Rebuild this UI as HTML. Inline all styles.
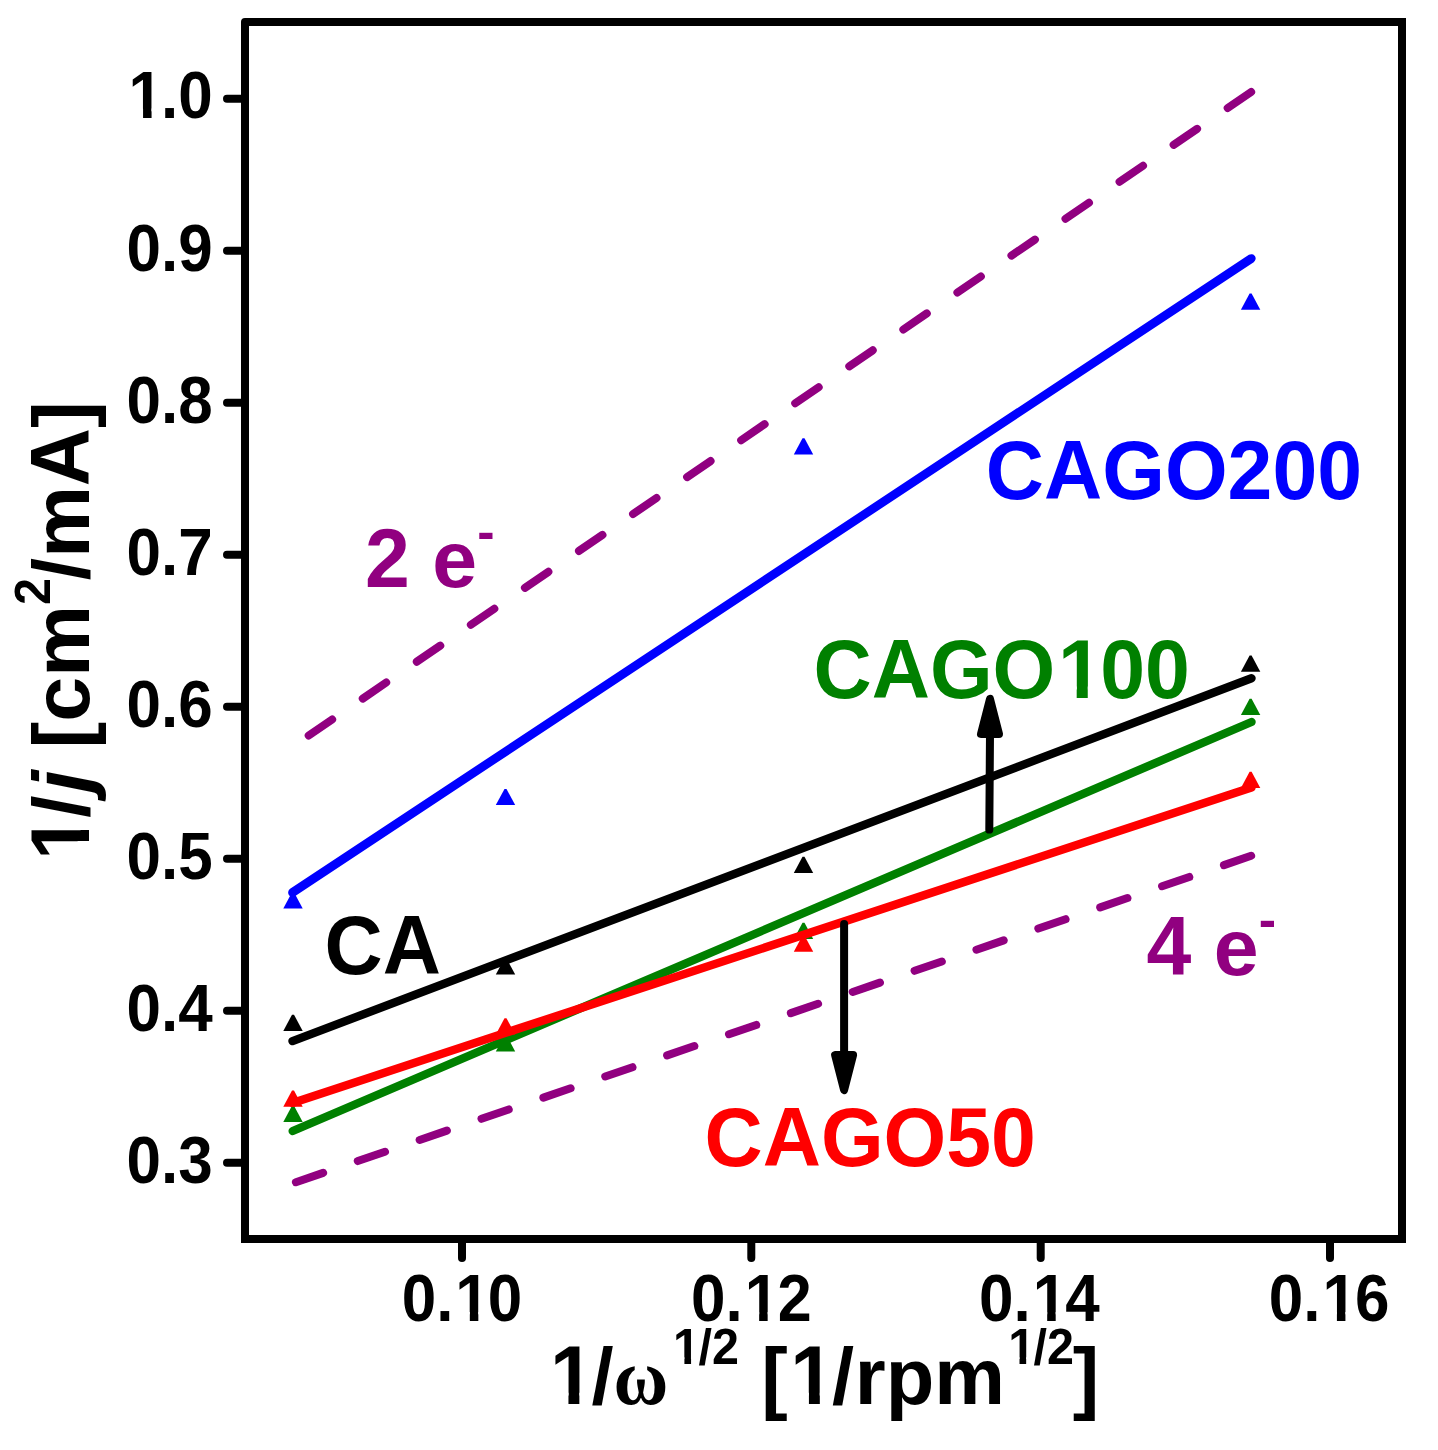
<!DOCTYPE html>
<html lang="en"><head><meta charset="utf-8"><title>Koutecky-Levich plot</title>
<style>html,body{margin:0;padding:0;background:#fff}svg{display:block}text{font-family:"Liberation Sans",Arial,Helvetica,sans-serif;font-weight:bold}.sy{font-family:"Liberation Serif","Times New Roman",serif;font-weight:bold}.it{font-style:italic}</style>
</head><body>
<svg width="1438" height="1450" viewBox="0 0 1438 1450">
<defs><clipPath id="c1"><path clip-rule="evenodd" d="M-50 -74.4H84.5V31.0H-50ZM-0.31 -8.37H16.45V1.86H-0.31ZM24.96 -8.37H37.20V1.86H24.96Z"/></clipPath><clipPath id="c2"><path clip-rule="evenodd" d="M-50 -74.4H119.0V31.0H-50ZM-0.31 -8.37H16.45V1.86H-0.31ZM24.96 -8.37H37.20V1.86H24.96Z"/></clipPath><clipPath id="c3"><path clip-rule="evenodd" d="M-50 -74.4H119.0V31.0H-50ZM-0.31 -8.37H16.45V1.86H-0.31ZM24.96 -8.37H37.20V1.86H24.96Z"/></clipPath><clipPath id="c4"><path clip-rule="evenodd" d="M-50 -74.4H119.0V31.0H-50ZM-0.31 -8.37H16.45V1.86H-0.31ZM24.96 -8.37H37.20V1.86H24.96Z"/></clipPath><clipPath id="c5"><path clip-rule="evenodd" d="M-50 -74.4H119.0V31.0H-50ZM-0.31 -8.37H16.45V1.86H-0.31ZM24.96 -8.37H37.20V1.86H24.96Z"/></clipPath><clipPath id="c6"><path clip-rule="evenodd" d="M-50 -96.7H426.3V40.3H-50ZM241.40 -10.88H263.19V2.42H241.40ZM274.25 -10.88H290.16V2.42H274.25Z"/></clipPath><clipPath id="c7"><path clip-rule="evenodd" d="M-50 -95.4H94.2V39.8H-50ZM-0.40 -10.73H21.10V2.38H-0.40ZM32.01 -10.73H47.70V2.38H32.01Z"/></clipPath><clipPath id="c8"><path clip-rule="evenodd" d="M-50 -58.2H77.0V24.2H-50ZM-0.24 -6.55H12.87V1.45H-0.24ZM19.53 -6.55H29.10V1.45H19.53Z"/></clipPath><clipPath id="c9"><path clip-rule="evenodd" d="M-50 -95.4H94.2V39.8H-50ZM-0.40 -10.73H21.10V2.38H-0.40ZM32.01 -10.73H47.70V2.38H32.01Z"/></clipPath><clipPath id="c10"><path clip-rule="evenodd" d="M-50 -58.2H77.0V24.2H-50ZM-0.24 -6.55H12.87V1.45H-0.24ZM19.53 -6.55H29.10V1.45H19.53Z"/></clipPath><clipPath id="c11"><path clip-rule="evenodd" d="M-50 -96.7H94.8V40.3H-50ZM-0.40 -10.88H21.39V2.42H-0.40ZM32.45 -10.88H48.36V2.42H32.45Z"/></clipPath></defs>
<rect x="0" y="0" width="1438" height="1450" fill="#ffffff"/>
<g fill="none" stroke="#000" stroke-width="8" stroke-linecap="round">
<path d="M245 1239L245 22L1402 22" stroke-linecap="square" stroke-linejoin="round"/>
<path d="M1402 22L1402 1239L245 1239" stroke-linecap="square" stroke-linejoin="miter"/>
<line x1="227" y1="98.8" x2="245" y2="98.8"/>
<line x1="227" y1="250.8" x2="245" y2="250.8"/>
<line x1="227" y1="402.8" x2="245" y2="402.8"/>
<line x1="227" y1="554.8" x2="245" y2="554.8"/>
<line x1="227" y1="706.8" x2="245" y2="706.8"/>
<line x1="227" y1="858.8" x2="245" y2="858.8"/>
<line x1="227" y1="1010.8" x2="245" y2="1010.8"/>
<line x1="227" y1="1162.8" x2="245" y2="1162.8"/>
<line x1="462.0" y1="1239" x2="462.0" y2="1258"/>
<line x1="751.3" y1="1239" x2="751.3" y2="1258"/>
<line x1="1040.7" y1="1239" x2="1040.7" y2="1258"/>
<line x1="1330.0" y1="1239" x2="1330.0" y2="1258"/>
</g>
<g><text transform="translate(212.80,117.50) translate(-86.19,0) scale(1,1.065)" font-size="62.0" clip-path="url(#c1)" dx="1.98">1</text><text transform="translate(212.80,117.50) translate(-51.71,0) scale(1,1.065)" font-size="62.0">.</text><text transform="translate(212.80,117.50) translate(-34.48,0) scale(1,1.065)" font-size="62.0">0</text></g>
<g><text transform="translate(212.80,270.50) translate(-86.19,0) scale(1,1.065)" font-size="62.0">0</text><text transform="translate(212.80,270.50) translate(-51.71,0) scale(1,1.065)" font-size="62.0">.</text><text transform="translate(212.80,270.50) translate(-34.48,0) scale(1,1.065)" font-size="62.0">9</text></g>
<g><text transform="translate(212.80,422.50) translate(-86.19,0) scale(1,1.065)" font-size="62.0">0</text><text transform="translate(212.80,422.50) translate(-51.71,0) scale(1,1.065)" font-size="62.0">.</text><text transform="translate(212.80,422.50) translate(-34.48,0) scale(1,1.065)" font-size="62.0">8</text></g>
<g><text transform="translate(212.80,574.50) translate(-86.19,0) scale(1,1.065)" font-size="62.0">0</text><text transform="translate(212.80,574.50) translate(-51.71,0) scale(1,1.065)" font-size="62.0">.</text><text transform="translate(212.80,574.50) translate(-34.48,0) scale(1,1.065)" font-size="62.0">7</text></g>
<g><text transform="translate(212.80,726.50) translate(-86.19,0) scale(1,1.065)" font-size="62.0">0</text><text transform="translate(212.80,726.50) translate(-51.71,0) scale(1,1.065)" font-size="62.0">.</text><text transform="translate(212.80,726.50) translate(-34.48,0) scale(1,1.065)" font-size="62.0">6</text></g>
<g><text transform="translate(212.80,878.50) translate(-86.19,0) scale(1,1.065)" font-size="62.0">0</text><text transform="translate(212.80,878.50) translate(-51.71,0) scale(1,1.065)" font-size="62.0">.</text><text transform="translate(212.80,878.50) translate(-34.48,0) scale(1,1.065)" font-size="62.0">5</text></g>
<g><text transform="translate(212.80,1030.50) translate(-86.19,0) scale(1,1.065)" font-size="62.0">0</text><text transform="translate(212.80,1030.50) translate(-51.71,0) scale(1,1.065)" font-size="62.0">.</text><text transform="translate(212.80,1030.50) translate(-34.48,0) scale(1,1.065)" font-size="62.0">4</text></g>
<g><text transform="translate(212.80,1182.50) translate(-86.19,0) scale(1,1.065)" font-size="62.0">0</text><text transform="translate(212.80,1182.50) translate(-51.71,0) scale(1,1.065)" font-size="62.0">.</text><text transform="translate(212.80,1182.50) translate(-34.48,0) scale(1,1.065)" font-size="62.0">3</text></g>
<g><text transform="translate(462.00,1320.90) translate(-60.33,0) scale(1,1.065)" font-size="62.0">0</text><text transform="translate(462.00,1320.90) translate(-25.85,0) scale(1,1.065)" font-size="62.0">.</text><text transform="translate(462.00,1320.90) translate(-8.63,0) scale(1,1.065)" font-size="62.0" clip-path="url(#c2)" dx="1.98 -1.98">10</text></g>
<g><text transform="translate(751.33,1320.90) translate(-60.33,0) scale(1,1.065)" font-size="62.0">0</text><text transform="translate(751.33,1320.90) translate(-25.85,0) scale(1,1.065)" font-size="62.0">.</text><text transform="translate(751.33,1320.90) translate(-8.63,0) scale(1,1.065)" font-size="62.0" clip-path="url(#c3)" dx="1.98 -1.98">12</text></g>
<g><text transform="translate(1039.36,1320.90) translate(-60.33,0) scale(1,1.065)" font-size="62.0">0</text><text transform="translate(1039.36,1320.90) translate(-25.85,0) scale(1,1.065)" font-size="62.0">.</text><text transform="translate(1039.36,1320.90) translate(-8.63,0) scale(1,1.065)" font-size="62.0" clip-path="url(#c4)" dx="1.98 -1.98">14</text></g>
<g><text transform="translate(1329.09,1320.90) translate(-60.33,0) scale(1,1.065)" font-size="62.0">0</text><text transform="translate(1329.09,1320.90) translate(-25.85,0) scale(1,1.065)" font-size="62.0">.</text><text transform="translate(1329.09,1320.90) translate(-8.63,0) scale(1,1.065)" font-size="62.0" clip-path="url(#c5)" dx="1.98 -1.98">16</text></g>
<line x1="308.7" y1="735.5" x2="1251.2" y2="91.9" stroke="#910080" stroke-width="8" stroke-linecap="round" stroke-dasharray="28.40 37.06"/>
<line x1="295.9" y1="1182.2" x2="1251.2" y2="855.8" stroke="#910080" stroke-width="8" stroke-linecap="round" stroke-dasharray="28.80 36.58"/>
<path d="M283.3 908.5L302.7 908.5L294.0 892.3L292.0 892.3Z" fill="#0000ff"/>
<path d="M495.8 805.1L515.2 805.1L506.5 788.9L504.5 788.9Z" fill="#0000ff"/>
<path d="M793.8 454.5L813.2 454.5L804.5 438.3L802.5 438.3Z" fill="#0000ff"/>
<path d="M1240.9 309.7L1260.3 309.7L1251.6 293.5L1249.6 293.5Z" fill="#0000ff"/>
<line x1="292.5" y1="892.5" x2="1251.3" y2="258.5" stroke="#0000ff" stroke-width="8.7" stroke-linecap="round"/>
<path d="M283.3 1030.9L302.7 1030.9L294.0 1014.7L292.0 1014.7Z" fill="#000000"/>
<path d="M495.8 974.6L515.2 974.6L506.5 958.4L504.5 958.4Z" fill="#000000"/>
<path d="M793.8 873.0L813.2 873.0L804.5 856.8L802.5 856.8Z" fill="#000000"/>
<path d="M1240.9 671.7L1260.3 671.7L1251.6 655.5L1249.6 655.5Z" fill="#000000"/>
<line x1="292.5" y1="1041.1" x2="1251.5" y2="678.3" stroke="#000000" stroke-width="8.4" stroke-linecap="round"/>
<path d="M283.3 1122.0L302.7 1122.0L294.0 1105.8L292.0 1105.8Z" fill="#008000"/>
<path d="M495.8 1051.4L515.2 1051.4L506.5 1035.2L504.5 1035.2Z" fill="#008000"/>
<path d="M793.8 939.0L813.2 939.0L804.5 922.8L802.5 922.8Z" fill="#008000"/>
<path d="M1240.9 715.0L1260.3 715.0L1251.6 698.8L1249.6 698.8Z" fill="#008000"/>
<line x1="292.7" y1="1131" x2="1251.5" y2="722" stroke="#008000" stroke-width="8.4" stroke-linecap="round"/>
<path d="M283.3 1106.8L302.7 1106.8L294.0 1090.6L292.0 1090.6Z" fill="#ff0000"/>
<path d="M495.8 1034.5L515.2 1034.5L506.5 1018.3L504.5 1018.3Z" fill="#ff0000"/>
<path d="M793.8 951.7L813.2 951.7L804.5 935.5L802.5 935.5Z" fill="#ff0000"/>
<path d="M1240.9 788.0L1260.3 788.0L1251.6 771.8L1249.6 771.8Z" fill="#ff0000"/>
<line x1="292.5" y1="1102.9" x2="1251.5" y2="787.5" stroke="#ff0000" stroke-width="8.4" stroke-linecap="round"/>
<line x1="989.3" y1="829.6" x2="990.0" y2="733.9" stroke="#000" stroke-width="8" stroke-linecap="round"/>
<path d="M981.0 733.9L999.0 733.9L990.0 698.9Z" fill="#000" stroke="#000" stroke-width="8" stroke-linejoin="round"/>
<line x1="844.1" y1="924" x2="844.1" y2="1055.1" stroke="#000" stroke-width="8" stroke-linecap="round"/>
<path d="M835.1 1055.1L853.1 1055.1L844.1 1090.1Z" fill="#000" stroke="#000" stroke-width="8" stroke-linejoin="round"/>
<g><text transform="translate(985.80,499.40) scale(1,1.045)" font-size="80.6" fill="#0000ff">CAGO200</text></g>
<g><text transform="translate(813.50,697.90) scale(1,1.045)" font-size="80.6" fill="#008000" clip-path="url(#c6)" dx="0 0 0 0 2.58 -2.58">CAGO100</text></g>
<g><text transform="translate(704.50,1166.00) scale(1,1.045)" font-size="80.6" fill="#ff0000">CAGO50</text></g>
<g><text transform="translate(324.50,973.90) scale(1,1.045)" font-size="80.6" fill="#000000">CA</text></g>
<g><text transform="translate(365.10,586.90) scale(1,1.045)" font-size="80.6" fill="#910080">2 </text><text transform="translate(365.10,586.90) translate(67.22,0)" font-size="80.6" fill="#910080">e</text><text transform="translate(477.17,549.30)" font-size="52" fill="#910080">-</text></g>
<g><text transform="translate(1146.59,974.90) scale(1,1.045)" font-size="80.6" fill="#910080">4 </text><text transform="translate(1146.59,974.90) translate(67.22,0)" font-size="80.6" fill="#910080">e</text><text transform="translate(1258.77,937.30)" font-size="52" fill="#910080">-</text></g>
<g><text transform="translate(547.35,1403.90) scale(1,1.045)" font-size="79.5" clip-path="url(#c7)" dx="2.54">1</text><text transform="translate(547.35,1403.90) translate(44.21,0)" font-size="79.5">/</text><text class="sy" transform="translate(613.6,1403.9) scale(1,1.08)" font-size="75">ω</text><text transform="translate(671.54,1363.90) scale(1,1.03)" font-size="48.5" clip-path="url(#c8)" dx="1.55">1</text><text transform="translate(671.54,1363.90) translate(26.97,0) scale(1,1.03)" font-size="48.5">/</text><text transform="translate(671.54,1363.90) translate(40.45,0) scale(1,1.03)" font-size="48.5">2</text> <text transform="translate(761.35,1403.90)" font-size="79.5">[</text><text transform="translate(761.35,1403.90) translate(26.47,0) scale(1,1.045)" font-size="79.5" clip-path="url(#c9)" dx="2.54">1</text><text transform="translate(761.35,1403.90) translate(70.69,0)" font-size="79.5">/</text><text transform="translate(854.85,1403.90)" font-size="79.5">rpm</text><text transform="translate(1006.64,1363.90) scale(1,1.03)" font-size="48.5" clip-path="url(#c10)" dx="1.55">1</text><text transform="translate(1006.64,1363.90) translate(26.97,0) scale(1,1.03)" font-size="48.5">/</text><text transform="translate(1006.64,1363.90) translate(40.45,0) scale(1,1.03)" font-size="48.5">2</text><text transform="translate(1072.73,1403.90)" font-size="79.5">]</text></g>
<g><text transform="translate(89.00,862.46) rotate(-90) scale(1,1.045)" font-size="80.6" clip-path="url(#c11)" dx="2.58">1</text><text transform="translate(89.00,862.46) rotate(-90) translate(44.83,0)" font-size="80.6">/</text><text class="it" transform="translate(89.00,792.78) rotate(-90)" font-size="80.6">j</text> <text transform="translate(89.00,748.51) rotate(-90)" font-size="80.6">[cm</text><text transform="translate(50.40,605.08) rotate(-90) scale(1,1.045)" font-size="48.5">2</text><text transform="translate(89.00,580.19) rotate(-90)" font-size="80.6">/m</text><text transform="translate(89.00,580.19) rotate(-90) translate(94.06,0) scale(1,1.045)" font-size="80.6">A</text><text transform="translate(89.00,580.19) rotate(-90) translate(152.27,0)" font-size="80.6">]</text></g>
</svg></body></html>
